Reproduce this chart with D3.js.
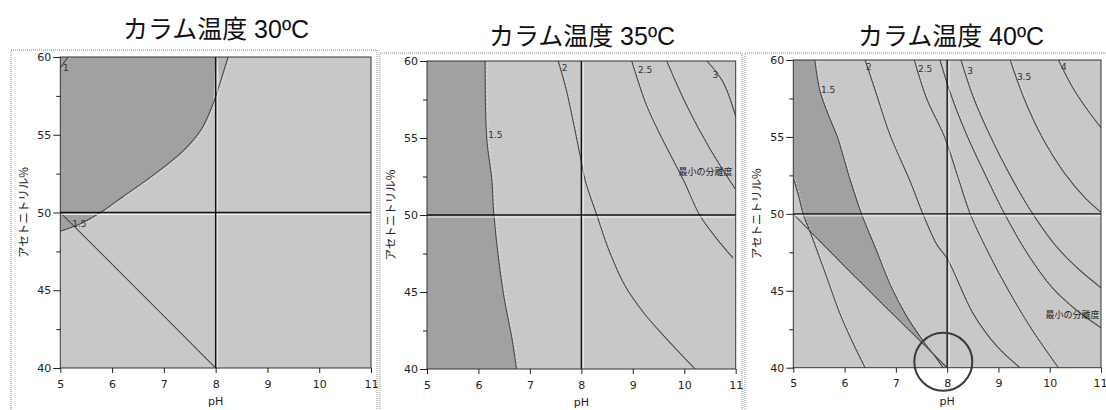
<!DOCTYPE html>
<html>
<head>
<meta charset="utf-8">
<script src="https://cdn.jsdelivr.net/npm/d3@7"></script>
<style>
body{margin:0;background:#fff;}
svg{display:block;font-family:"DejaVu Sans",Verdana,sans-serif;}
.title{font-family:"Liberation Sans","Noto Sans CJK JP",sans-serif;font-size:25px;fill:#111;}
.axis text{font-size:11px;fill:#222;font-family:"DejaVu Sans",Verdana,sans-serif;}
.axis line{stroke:#222;}
.axis path{display:none;}
.ylab{font-family:"Noto Sans CJK JP",sans-serif;font-size:11.5px;fill:#222;}
.xlab{font-size:11px;fill:#222;}
.clab{font-size:9px;fill:#333;}
.note{font-family:"Noto Sans CJK JP",sans-serif;font-size:9px;fill:#222;}
</style>
</head>
<body>
<svg id="chart" width="1106" height="410"></svg>
<script>
// axes
const phTicks = [5, 6, 7, 8, 9, 10, 11];
const acnTicks = [40, 45, 50, 55, 60];
const acnMinor = [42.5, 47.5, 52.5, 57.5];
const titles = ["カラム温度 30ºC", "カラム温度 35ºC", "カラム温度 40ºC"];
const phRef = 8, acnRef = 50;

// 30C contours, [pH, acetonitrile %]
const t30_c1 = [[5.0, 59.3], [5.07, 59.62], [5.15, 60]];
const t30_c15 = [[8.24, 60], [8.1, 58.5], [7.95, 57], [7.75, 55.5], [7.5, 54.4], [7.18, 53.4], [6.67, 52.1], [6.2, 51.0], [5.82, 50.1], [5.4, 49.3], [5.0, 48.8]];
const t30_diag = [[5.0, 50.0], [6.25, 45.85], [8.0, 40.0]];
const t30_labels = [["1", 5.05, 59.1], ["1.5", 5.23, 49.05]];

// 35C contours
const t35_c15 = [[6.13, 60], [6.16, 55], [6.26, 52.3], [6.30, 50], [6.48, 45], [6.65, 42], [6.74, 40]];
const t35_c2 = [[7.55, 60], [7.71, 58.1], [7.98, 53.8], [8.07, 52.3], [8.30, 50], [8.55, 47.6], [8.85, 45.4], [9.2, 43.7], [9.59, 42.2], [10.21, 40]];
const t35_c25 = [[8.98, 60], [9.27, 57.1], [9.55, 55.1], [9.98, 52.3], [10.3, 50], [10.6, 48.6], [10.95, 47.2]];
const t35_c275 = [[9.66, 60], [10.05, 57.1], [10.5, 54.3], [10.99, 51.7]];
const t35_c3 = [[10.44, 60], [10.75, 58.66], [11.0, 56.4]];
const t35_labels = [["1.5", 6.19, 55.0], ["2", 7.62, 59.35], ["2.5", 9.1, 59.2], ["3", 10.55, 58.9]];
const t35_note = ["最小の分離度", 10.94, 52.6];

// 40C contours
const t40_c1 = [[5.0, 52.3], [5.1, 51.2], [5.2, 49.9], [5.32, 48.9], [5.65, 45.9], [5.91, 43.5], [6.15, 41.7], [6.4, 40.0]];
const t40_c15 = [[5.42, 60], [5.52, 58], [5.7, 56.3], [5.86, 55], [6.1, 52.3], [6.33, 50], [6.6, 47.8], [6.89, 45.4], [7.2, 43.4], [7.54, 41.7], [7.75, 40.8], [7.92, 40]];
const t40_diag = [[5.0, 50.0], [5.32, 48.9], [6.24, 45.8], [7.41, 41.95], [8.0, 40.0]];
const t40_c2 = [[6.4, 60], [6.6, 58.0], [6.89, 55.1], [7.28, 52.1], [7.54, 49.9], [7.8, 48.0], [8.0, 47.1], [8.51, 43.5], [8.97, 41.4], [9.42, 40]];
const t40_c25 = [[7.36, 60], [7.6, 57.5], [7.95, 55], [8.2, 52.5], [8.45, 50], [8.8, 47.5], [9.2, 45], [9.65, 42.5], [10.17, 40]];
const t40_c275 = [[7.86, 60], [8.1, 57.5], [8.4, 55], [8.75, 52.5], [9.12, 50], [9.55, 47.5], [10.05, 45.2], [10.5, 43.8], [11.0, 42.6]];
const t40_c3 = [[8.27, 60], [8.52, 57.5], [8.85, 55], [9.23, 52.5], [9.67, 50], [10.15, 47.8], [10.6, 46.3], [11.0, 45.2]];
const t40_c35 = [[9.23, 60], [9.5, 57.5], [9.85, 55], [10.3, 52.6], [10.7, 51.0], [11.0, 50.1]];
const t40_c4 = [[10.17, 60], [10.45, 58.2], [10.75, 56.7], [11.0, 55.6]];
const t40_labels = [["1.5", 5.54, 57.85], ["2", 6.42, 59.35], ["2.5", 7.43, 59.2], ["3", 8.39, 59.1], ["3.5", 9.36, 58.7], ["4", 10.22, 59.35]];
const t40_note = ["最小の分離度", 10.97, 43.2];
const t40_mark = [7.925, 40.39];

const lightFill = "#c8c8c8", darkFill = "#a1a1a1", midFill = "#b6b6b6";

const svg = d3.select("#chart");

const boxes = [
  {x0: 60.3, x1: 371, y0: 57, y1: 368, frame: [11, 50, 377, 412], tx: 216, ty: 38},
  {x0: 427, x1: 735.7, y0: 61, y1: 369, frame: [380, 53, 742, 412], tx: 582, ty: 45},
  {x0: 793.3, x1: 1101, y0: 60, y1: 367.7, frame: [745, 53, 1107, 412], tx: 951, ty: 45}
];

const curve = d3.curveCatmullRom.alpha(0.5);

function drawPanel(i, spec) {
  const b = boxes[i];
  const x = d3.scaleLinear().domain([5, 11]).range([b.x0, b.x1]);
  const y = d3.scaleLinear().domain([40, 60]).range([b.y1, b.y0]);
  const g = svg.append("g");
  const line = d3.line().x(d => x(d[0])).y(d => y(d[1])).curve(curve);
  const straight = d3.line().x(d => x(d[0])).y(d => y(d[1]));

  // outer dotted frame
  const f = b.frame;
  g.append("rect").attr("x", f[0]).attr("y", f[1]).attr("width", f[2] - f[0]).attr("height", f[3] - f[1])
    .attr("fill", "none").attr("stroke", "#888").attr("stroke-dasharray", "1,1");

  g.append("text").attr("class", "title").attr("x", b.tx).attr("y", b.ty)
    .attr("text-anchor", "middle").text(titles[i]);

  const clipId = "clip" + i;
  g.append("clipPath").attr("id", clipId).append("rect")
    .attr("x", b.x0).attr("y", b.y0).attr("width", b.x1 - b.x0).attr("height", b.y1 - b.y0);
  const plot = g.append("g").attr("clip-path", `url(#${clipId})`);

  plot.append("rect").attr("x", b.x0).attr("y", b.y0).attr("width", b.x1 - b.x0).attr("height", b.y1 - b.y0)
    .attr("fill", lightFill);

  // shaded regions: list of segments, each [points, smooth?]
  spec.regions.forEach(r => {
    let d = "";
    r.segs.forEach((s, k) => {
      const part = (s[1] ? line : straight)(s[0]);
      d += k === 0 ? part : "L" + part.slice(1);
    });
    plot.append("path").attr("d", d + "Z").attr("fill", r.fill);
  });

  // contour lines
  spec.lines.forEach(pts => {
    plot.append("path").attr("d", line(pts)).attr("fill", "none")
      .attr("stroke", "#fff").attr("stroke-opacity", 0.75).attr("stroke-width", 1)
      .attr("stroke-dasharray", "1,3").attr("transform", "translate(2,1)");
    plot.append("path").attr("d", line(pts)).attr("fill", "none")
      .attr("stroke", "#4a4a4a").attr("stroke-width", 1.1);
  });

  // reference lines
  plot.append("line").attr("x1", b.x0).attr("x2", b.x1).attr("y1", y(acnRef) + 2).attr("y2", y(acnRef) + 2)
    .attr("stroke", "#fff").attr("stroke-opacity", 0.8);
  plot.append("line").attr("x1", x(phRef) + 2).attr("x2", x(phRef) + 2).attr("y1", b.y0).attr("y2", b.y1)
    .attr("stroke", "#fff").attr("stroke-opacity", 0.6);
  plot.append("line").attr("x1", b.x0).attr("x2", b.x1).attr("y1", y(acnRef)).attr("y2", y(acnRef))
    .attr("stroke", "#111").attr("stroke-width", 1.4);
  plot.append("line").attr("x1", x(phRef)).attr("x2", x(phRef)).attr("y1", b.y0).attr("y2", b.y1)
    .attr("stroke", "#111").attr("stroke-width", 1.4);

  spec.labels.forEach(l => {
    plot.append("text").attr("class", "clab").attr("x", x(l[1])).attr("y", y(l[2])).text(l[0]);
  });
  if (spec.note) {
    plot.append("text").attr("class", "note").attr("x", x(spec.note[1])).attr("y", y(spec.note[2]))
      .attr("text-anchor", "end").text(spec.note[0]);
  }

  // plot frame
  g.append("rect").attr("x", b.x0).attr("y", b.y0).attr("width", b.x1 - b.x0).attr("height", b.y1 - b.y0)
    .attr("fill", "none").attr("stroke", "#333").attr("stroke-width", 1);

  // axes
  const xa = g.append("g").attr("class", "axis").attr("transform", `translate(0,${b.y1})`)
    .call(d3.axisBottom(x).tickValues(phTicks).tickSize(5).tickPadding(7).tickFormat(d3.format("d")));
  if (spec.lastTickEnd) {
    xa.selectAll(".tick").filter(d => d === phTicks[phTicks.length - 1]).select("text")
      .attr("text-anchor", "end").attr("dx", 6);
  }
  g.append("g").attr("class", "axis").attr("transform", `translate(${b.x0},0)`)
    .call(d3.axisLeft(y).tickValues(acnTicks).tickSize(7).tickPadding(2).tickFormat(d3.format("d")));
  g.append("g").attr("class", "axis").attr("transform", `translate(${b.x0},0)`)
    .call(d3.axisLeft(y).tickValues(acnMinor).tickSize(4).tickFormat(""));

  g.append("text").attr("class", "xlab").attr("x", (b.x0 + b.x1) / 2).attr("y", b.y1 + 37)
    .attr("text-anchor", "middle").text("pH");
  g.append("text").attr("class", "ylab")
    .attr("transform", `translate(${b.x0 - 32},${(b.y0 + b.y1) / 2}) rotate(-90)`)
    .attr("text-anchor", "middle").text("アセトニトリル%");

  if (spec.mark) {
    g.append("circle").attr("cx", x(spec.mark[0])).attr("cy", y(spec.mark[1])).attr("r", 29)
      .attr("fill", "none").attr("stroke", "#3a3a3a").attr("stroke-width", 2);
  }
}

drawPanel(0, {
  regions: [
    {fill: darkFill, segs: [[[[5, 60], [phRef, 60]], false], [t30_c15.filter(p => p[0] <= phRef), true]]},
    {fill: midFill, segs: [[[[phRef, 60]], false], [t30_c15.filter(p => p[0] >= phRef), true]]}
  ],
  lines: [t30_c1, t30_c15, t30_diag],
  labels: t30_labels
});

drawPanel(1, {
  regions: [
    {fill: darkFill, segs: [[[[5, 60]], false], [t35_c15, true], [[[5, 40]], false]]}
  ],
  lines: [t35_c15, t35_c2, t35_c25, t35_c275, t35_c3],
  labels: t35_labels,
  note: t35_note
});

drawPanel(2, {
  regions: [
    {fill: darkFill, segs: [[[[5, 60]], false], [t40_c15, true], [[[phRef, 40]], false],
      [t40_diag.filter(p => p[0] >= 5.32).reverse(), true],
      [t40_c1.filter(p => p[0] <= 5.32).reverse(), true]]}
  ],
  lines: [t40_c1, t40_c15, t40_diag, t40_c2, t40_c25, t40_c275, t40_c3, t40_c35, t40_c4],
  labels: t40_labels,
  note: t40_note,
  mark: t40_mark,
  lastTickEnd: true
});
</script>
</body>
</html>
